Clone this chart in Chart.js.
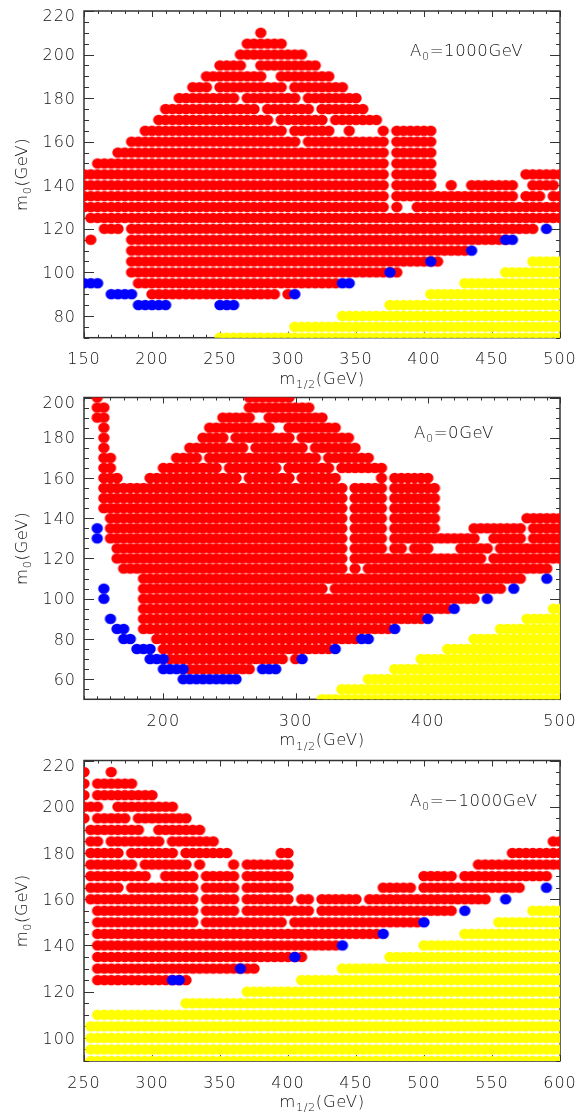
<!DOCTYPE html>
<html><head><meta charset="utf-8">
<script src="https://cdn.jsdelivr.net/npm/chart.js@4"></script>
<style>html,body{margin:0;padding:0;background:#fff;width:579px;height:1113px;overflow:hidden}canvas{position:absolute;left:0}</style>
</head><body>
<canvas id="c1"></canvas><canvas id="c2"></canvas><canvas id="c3"></canvas>
<script>
// Rows: [m0, from, to, from, to, ...] in m1/2 grid units of 5 GeV
const red1=[[210,280,280],[205,270,295],[200,265,310],[195,250,265,280,320],[190,240,280,295,330],[185,230,240,250,295,305,340],[180,220,260,270,305,315,350],[175,210,275,285,315,325,355],[170,205,285,295,325,335,365],[165,195,295,305,330,345,345,370,370,380,405],[160,185,305,315,370,380,405],[155,175,370,380,405],[150,160,370,380,405],[145,150,370,380,405,475,500],[140,150,370,380,405,420,420,435,465,480,495],[135,150,370,380,465,475,485,495,500],[130,150,370,380,380,395,500],[125,155,500],[120,165,175,185,480],[115,155,155,185,460],[110,185,430],[105,185,410],[100,185,380],[95,190,335],[90,200,290,300,300]];
const blue1=[[120,490,490],[115,460,465],[110,435,435],[105,405,405],[100,375,375],[95,150,160,340,345],[90,170,185,305,305],[85,190,210,250,260]];
const yellow1=[[105,480,500],[100,460,500],[95,430,500],[90,405,500],[85,375,500],[80,340,500],[75,305,500],[70,250,500]];
const red2=[[200,150,150,265,295],[195,150,155,265,310],[190,150,155,245,265,280,320],[185,155,155,235,280,295,330],[180,155,155,230,245,255,295,305,340],[175,155,155,220,260,270,305,315,345],[170,155,160,210,225,235,315,325,355],[165,155,160,200,240,250,285,295,325,335,365],[160,155,165,190,255,265,295,305,330,365,365,375,400],[155,155,335,345,365,375,405],[150,155,335,345,365,375,405],[145,155,335,345,365,375,405],[140,160,335,345,365,375,405,475,500],[135,160,335,345,365,375,405,435,470,480,500],[130,160,335,345,365,375,435,450,470,480,500],[125,165,335,345,365,375,380,390,400,425,445,455,500],[120,165,335,345,440,450,500],[115,170,335,345,345,355,490],[110,185,470],[105,185,320,330,455],[100,185,435],[95,185,415],[90,185,395],[85,185,370],[80,195,345],[75,200,325],[70,205,290,300,300],[65,220,265]];
const blue2=[[135,150,150],[130,150,150],[110,490,490],[105,155,155,465,465],[100,155,155,445,445],[95,420,420],[90,160,160,400,400],[85,165,170,375,375],[80,170,175,350,355],[75,180,190,330,330],[70,190,200,305,305],[65,200,215,275,285],[60,215,255]];
const yellow2=[[95,495,500],[90,475,500],[85,455,500],[80,435,500],[75,415,500],[70,395,500],[65,375,500],[60,355,500],[55,335,500],[50,320,500]];
const red3=[[215,250,250,270,270],[210,250,250,260,285],[205,250,250,260,300],[200,250,260,275,315],[195,250,250,260,280,290,325],[190,255,290,305,335],[185,255,260,270,305,315,345,595,600],[180,255,275,285,315,325,355,395,400,565,600],[175,255,285,295,325,335,335,360,360,370,400,540,600],[170,255,295,310,330,340,360,370,400,500,520,530,590],[165,255,275,285,330,340,360,370,400,470,490,500,570],[160,255,330,340,360,370,400,410,415,425,450,460,545],[155,260,330,340,360,370,415,425,520],[150,260,330,340,395,405,495],[145,260,465],[140,260,435],[135,260,410],[130,260,375],[125,260,325]];
const blue3=[[165,590,590],[160,560,560],[155,530,530],[150,500,500],[145,470,470],[140,440,440],[135,405,405],[130,365,365],[125,315,320]];
const yellow3=[[155,580,600],[150,555,600],[145,530,600],[140,500,600],[135,475,600],[130,440,600],[125,410,600],[120,370,600],[115,325,600],[110,260,600],[105,255,600],[100,255,600],[95,255,600],[90,255,600]];
const xTitle=['m','1/2','(GeV)'];
const yTitle=['m','0','(GeV)'];
const labels=[['A','0','=1000GeV'],['A','0','=0GeV'],['A','0','=\u22121000GeV']];

const FONT='"DejaVu Sans"';
const WEIGHT='200';
const INK='#111111';
function pts(rows){const o=[];for(const r of rows){for(let i=1;i<r.length;i+=2){for(let x=r[i];x<=r[i+1];x+=5)o.push({x,y:r[0]});}}return o;}
function dot(color){
  const c=document.createElement('canvas');c.width=14;c.height=14;
  const g=c.getContext('2d');g.fillStyle=color;g.beginPath();g.ellipse(7,7,5.7,5.35,0,0,Math.PI*2);g.fill();
  return c;
}
const dotBlue=dot('#0000ff'),dotRed=dot('#ff0000'),dotYellow=dot('#ffff00');
function rich(ctx,parts,x,y,size,align){
  ctx.save();ctx.fillStyle=INK;ctx.textBaseline='alphabetic';ctx.letterSpacing='0.6px';
  const sub=size*0.68;
  const f=s=>`${WEIGHT} ${s}px ${FONT}`;
  const w=(t,s)=>{ctx.font=f(s);return ctx.measureText(t).width;};
  const total=w(parts[0],size)+w(parts[1],sub)+w(parts[2],size);
  let cx=align==='center'?x-total/2:x;
  ctx.font=f(size);ctx.fillText(parts[0],cx,y);cx+=w(parts[0],size);
  ctx.font=f(sub);ctx.fillText(parts[1],cx,y+size*0.27);cx+=w(parts[1],sub);
  ctx.font=f(size);ctx.fillText(parts[2],cx,y);
  ctx.restore();
}
function panel(id,p){
  const cv=document.getElementById(id);
  cv.width=579;cv.height=p.h;cv.style.top=p.top+'px';cv.style.width='579px';cv.style.height=p.h+'px';
  const deco={id:'deco',
    beforeDraw(chart){chart.ctx.letterSpacing='1px';
      const s=chart.scales.y,items=s.getLabelItems();
      if(!s.$moved){s.$moved=true;for(const it of items){if(it.label==='')continue;const tr=it.options.translation;tr[1]+=(+it.label===p.yMax?6:1.5);}}
    },
    beforeDatasetsDraw(chart){
      const c=chart.ctx,a=chart.chartArea,sx=chart.scales.x,sy=chart.scales.y;
      c.save();c.strokeStyle='#333';c.lineWidth=1;c.beginPath();
      for(const t of sx.ticks){const px=Math.round(sx.getPixelForValue(t.value))+.5,l=t.value%p.xMajor===0?6:3;
        c.moveTo(px,a.bottom);c.lineTo(px,a.bottom-l);c.moveTo(px,a.top);c.lineTo(px,a.top+l);}
      for(const t of sy.ticks){const py=Math.round(sy.getPixelForValue(t.value))+.5,maj=t.value%20===0;
        c.moveTo(a.left,py);c.lineTo(a.left+(maj?10:5),py);c.moveTo(a.right,py);c.lineTo(a.right-(maj?10:4),py);}
      c.stroke();c.lineWidth=1.5;c.strokeRect(a.left,a.top,a.right-a.left,a.bottom-a.top);c.restore();
    },
    afterDraw(chart){
      const c=chart.ctx,a=chart.chartArea;
      rich(c,xTitle,(a.left+a.right)/2,a.bottom+46,16.5,'center');
      c.save();c.translate(27,(a.top+a.bottom)/2);c.rotate(-Math.PI/2);rich(c,yTitle,0,0,16.5,'center');c.restore();
      rich(c,p.label,p.lx,p.ly,16.5,'left');
    }};
  new Chart(cv,{type:'scatter',
    data:{datasets:[
      {data:pts(p.blue),pointStyle:dotBlue,backgroundColor:'#0000ff'},
      {data:pts(p.red),pointStyle:dotRed,backgroundColor:'#ff0000'},
      {data:pts(p.yellow),pointStyle:dotYellow,backgroundColor:'#ffff00'}
    ].map(d=>Object.assign(d,{pointRadius:5.5,pointBorderWidth:0,borderWidth:0,clip:0}))},
    options:{responsive:false,animation:false,devicePixelRatio:1,
      layout:{padding:{top:p.padTop,right:19,left:0,bottom:0}},
      plugins:{legend:{display:false},tooltip:{enabled:false}},
      scales:{
        x:{type:'linear',min:p.xMin,max:p.xMax,grid:{display:false},border:{display:false},
          afterFit(s){s.height=p.h-p.bottom;s.paddingLeft=s.paddingRight=s.paddingTop=s.paddingBottom=0;},
          ticks:{stepSize:10,autoSkip:false,maxRotation:0,padding:5,color:INK,font:{family:FONT,size:16,weight:WEIGHT},callback:v=>v%p.xMajor===0?String(v):''}},
        y:{type:'linear',min:p.yMin,max:p.yMax,grid:{display:false},border:{display:false},
          afterFit(s){s.width=84;s.paddingLeft=s.paddingRight=s.paddingTop=s.paddingBottom=0;},
          ticks:{stepSize:5,autoSkip:false,padding:0,color:INK,font:{family:FONT,size:16,weight:WEIGHT},callback:v=>v%20===0?String(v):''}}
      }},
    plugins:[deco]});
}
panel('c1',{top:0,h:392,padTop:11,bottom:337.7,xMin:150,xMax:500,yMin:70,yMax:220,xMajor:50,red:red1,blue:blue1,yellow:yellow1,label:labels[0],lx:410,ly:56});
panel('c2',{top:392,h:363,padTop:4,bottom:307.3,xMin:140,xMax:500,yMin:50,yMax:200,xMajor:100,red:red2,blue:blue2,yellow:yellow2,label:labels[1],lx:414,ly:45.5});
panel('c3',{top:755,h:358,padTop:3.3,bottom:306,xMin:250,xMax:600,yMin:90,yMax:220,xMajor:50,red:red3,blue:blue3,yellow:yellow3,label:labels[2],lx:410,ly:51});
</script>
</body></html>
